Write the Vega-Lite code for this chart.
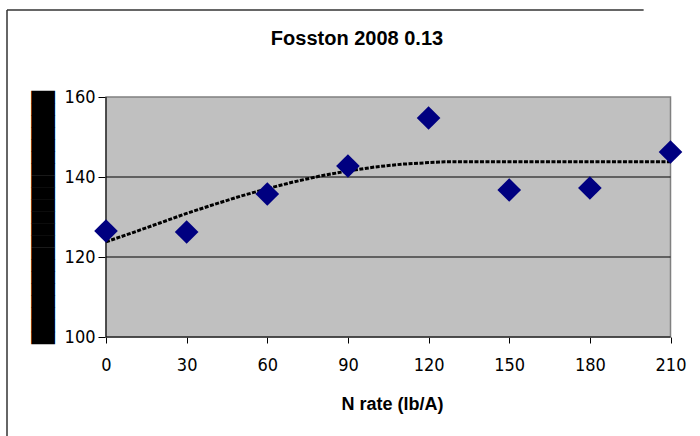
{
  "$schema": "https://vega.github.io/schema/vega-lite/v6.json",
  "width": 693,
  "height": 426,
  "autosize": {"type": "none"},
  "padding": {"left": 7, "top": 10, "right": 0, "bottom": 0},
  "background": "white",
  "config": {"view": {"stroke": null}},
  "title": {
    "text": "Fosston 2008 0.13",
    "font": "Liberation Sans",
    "fontSize": 20,
    "fontWeight": "bold",
    "color": "black",
    "anchor": "middle",
    "baseline": "alphabetic",
    "offset": -34,
    "dx": 3.5,
    "dy": 22
  },
  "data": {"values": [{}]},
  "datasets": {
    "obs": [
      {"N": 0, "yield": 126.5},
      {"N": 30, "yield": 126.25},
      {"N": 60, "yield": 135.75},
      {"N": 90, "yield": 142.75},
      {"N": 120, "yield": 154.75},
      {"N": 150, "yield": 136.75},
      {"N": 180, "yield": 137.25},
      {"N": 210, "yield": 146.25}
    ],
    "fit": [
      {"N": 0, "yield": 123.8},
      {"N": 10, "yield": 126.1},
      {"N": 20, "yield": 128.5},
      {"N": 30, "yield": 130.9},
      {"N": 40, "yield": 133.1},
      {"N": 50, "yield": 135.2},
      {"N": 60, "yield": 137.1},
      {"N": 70, "yield": 138.8},
      {"N": 80, "yield": 140.3},
      {"N": 90, "yield": 141.5},
      {"N": 100, "yield": 142.5},
      {"N": 110, "yield": 143.2},
      {"N": 120, "yield": 143.6},
      {"N": 126, "yield": 143.8},
      {"N": 210, "yield": 143.8}
    ],
    "grid": [{"g": 120}, {"g": 140}]
  },
  "layer": [
    {
      "mark": {"type": "rule", "color": "#333333", "strokeWidth": 1.5},
      "encoding": {
        "x": {
          "datum": -36.83,
          "type": "quantitative",
          "scale": {"domain": [-36.83, 220.97], "nice": false, "zero": false},
          "axis": {
            "values": [0, 30, 60, 90, 120, 150, 180, 210],
            "offset": -99,
            "domain": false,
            "grid": false,
            "ticks": true,
            "tickSize": 6,
            "tickColor": "black",
            "labelFont": "Liberation Sans Narrow, DejaVu Sans Condensed, Arial Narrow, Liberation Sans, sans-serif",
            "labelFontSize": 18,
            "labelColor": "black",
            "labelPadding": 13,
            "labelFlush": false,
            "labelOverlap": false,
            "title": "N rate (lb/A)",
            "titleFont": "Liberation Sans",
            "titleFontSize": 18,
            "titleFontWeight": "bold",
            "titleColor": "black",
            "titleX": 385,
            "titleY": 72,
            "titleAlign": "center",
            "titleBaseline": "alphabetic"
          }
        },
        "y": {
          "datum": 75.25,
          "type": "quantitative",
          "scale": {"domain": [75.25, 181.75], "nice": false, "zero": false},
          "axis": {
            "values": [100, 120, 140, 160],
            "offset": -99,
            "domain": false,
            "grid": false,
            "ticks": true,
            "tickSize": 8,
            "tickColor": "black",
            "labelFont": "Liberation Sans Narrow, DejaVu Sans Condensed, Arial Narrow, Liberation Sans, sans-serif",
            "labelFontSize": 18,
            "labelColor": "black",
            "labelPadding": 3,
            "labelFlush": false,
            "labelOverlap": false,
            "title": "█████████████████████",
            "titleFont": "DejaVu Sans Mono",
            "titleFontSize": 20,
            "titleFontWeight": "normal",
            "titleColor": "black",
            "titleAngle": -90,
            "titleX": -63,
            "titleY": 207,
            "titleAlign": "center",
            "titleBaseline": "middle"
          }
        },
        "y2": {"datum": 181.75}
      }
    },
    {
      "mark": {"type": "rule", "color": "#333333", "strokeWidth": 1.5},
      "encoding": {
        "x": {"datum": -36.83, "type": "quantitative"},
        "x2": {"datum": 200},
        "y": {"datum": 181.75, "type": "quantitative"}
      }
    },
    {
      "mark": {"type": "rect", "fill": "#C0C0C0", "stroke": "#808080", "strokeWidth": 1.5},
      "encoding": {
        "x": {"datum": 0, "type": "quantitative"},
        "x2": {"datum": 210},
        "y": {"datum": 100, "type": "quantitative"},
        "y2": {"datum": 160}
      }
    },
    {
      "data": {"name": "grid"},
      "mark": {"type": "rule", "color": "#000000", "strokeWidth": 1},
      "encoding": {
        "x": {"datum": 0, "type": "quantitative"},
        "x2": {"datum": 210},
        "y": {"field": "g", "type": "quantitative"}
      }
    },
    {
      "mark": {"type": "rule", "color": "black", "strokeWidth": 1},
      "encoding": {
        "x": {"datum": 0, "type": "quantitative"},
        "y": {"datum": 100, "type": "quantitative"},
        "y2": {"datum": 160}
      }
    },
    {
      "mark": {"type": "rule", "color": "black", "strokeWidth": 1},
      "encoding": {
        "x": {"datum": 0, "type": "quantitative"},
        "x2": {"datum": 210},
        "y": {"datum": 100, "type": "quantitative"}
      }
    },
    {
      "data": {"name": "fit"},
      "mark": {"type": "line", "color": "black", "strokeWidth": 3, "strokeDash": [4, 1.5]},
      "encoding": {
        "x": {"field": "N", "type": "quantitative"},
        "y": {"field": "yield", "type": "quantitative"}
      }
    },
    {
      "data": {"name": "obs"},
      "mark": {"type": "point", "shape": "diamond", "filled": true, "color": "#000080", "opacity": 1, "size": 560},
      "encoding": {
        "x": {"field": "N", "type": "quantitative"},
        "y": {"field": "yield", "type": "quantitative"}
      }
    }
  ]
}
